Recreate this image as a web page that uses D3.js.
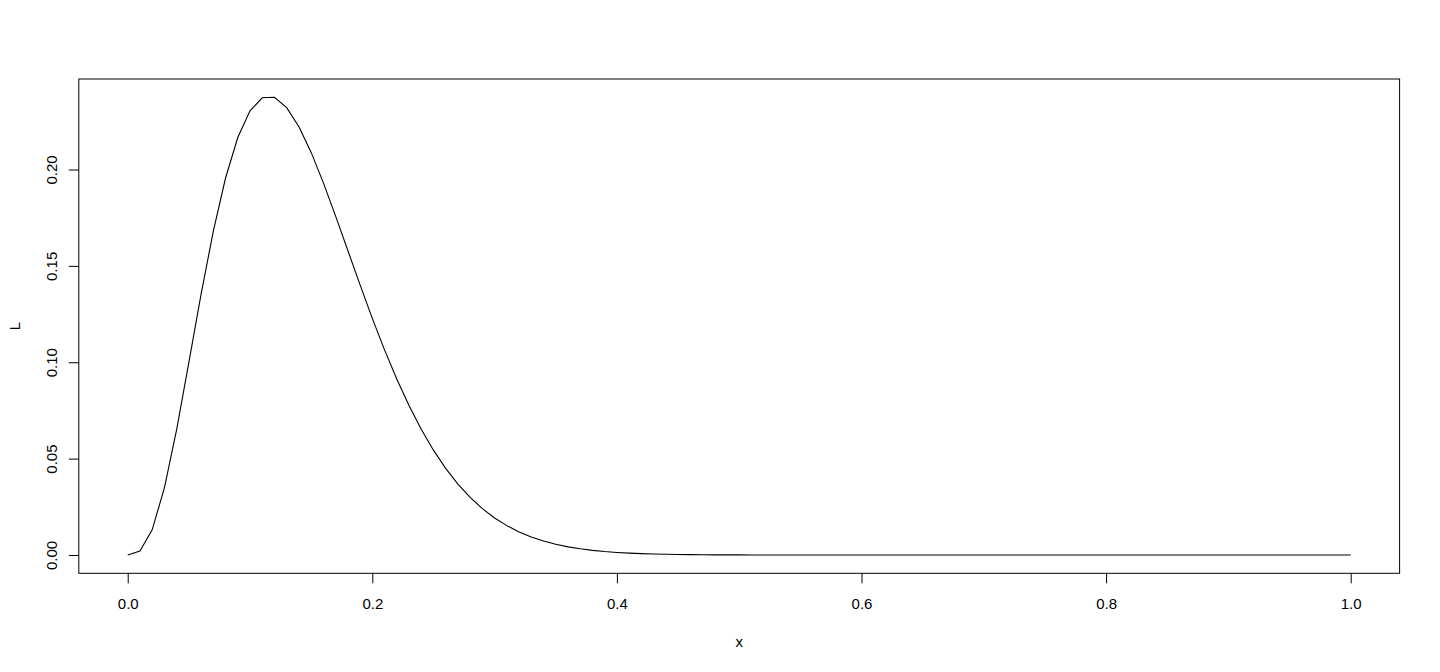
<!DOCTYPE html>
<html>
<head>
<meta charset="utf-8">
<script src="https://cdn.jsdelivr.net/npm/d3@7"></script>
<style>
  body { margin: 0; background: #fff; }
  svg { display: block; font-family: "Liberation Sans", Arial, sans-serif; }
</style>
</head>
<body>
<svg id="chart" width="1440" height="672"></svg>
<script>
// values
const xValues = [
  0.00, 0.01, 0.02, 0.03, 0.04, 0.05, 0.06, 0.07, 0.08, 0.09,
  0.10, 0.11, 0.12, 0.13, 0.14, 0.15, 0.16, 0.17, 0.18, 0.19,
  0.20, 0.21, 0.22, 0.23, 0.24, 0.25, 0.26, 0.27, 0.28, 0.29,
  0.30, 0.31, 0.32, 0.33, 0.34, 0.35, 0.36, 0.37, 0.38, 0.39,
  0.40, 0.41, 0.42, 0.43, 0.44, 0.45, 0.46, 0.47, 0.48, 0.49,
  0.50, 0.51, 0.52, 0.53, 0.54, 0.55, 0.56, 0.57, 0.58, 0.59,
  0.60, 0.61, 0.62, 0.63, 0.64, 0.65, 0.66, 0.67, 0.68, 0.69,
  0.70, 0.71, 0.72, 0.73, 0.74, 0.75, 0.76, 0.77, 0.78, 0.79,
  0.80, 0.81, 0.82, 0.83, 0.84, 0.85, 0.86, 0.87, 0.88, 0.89,
  0.90, 0.91, 0.92, 0.93, 0.94, 0.95, 0.96, 0.97, 0.98, 0.99,
  1.00
];

const lValues = [
  0, 0.00206, 0.01307, 0.03484, 0.06508, 0.09991, 0.13535, 0.16803, 0.19559, 0.21659,
  0.23044, 0.23720, 0.23746, 0.23209, 0.22221, 0.20887, 0.19306, 0.17580, 0.15795, 0.14012,
  0.12279, 0.10643, 0.09130, 0.07754, 0.06524, 0.05439, 0.04494, 0.03681, 0.02989, 0.02406,
  0.01921, 0.01523, 0.01197, 0.00934, 0.00723, 0.00555, 0.00423, 0.00320, 0.00240, 0.00178,
  0.00131, 0.00096, 0.00070, 0.00050, 0.00036, 0.00025, 0.00018, 0.00012, 0.00008, 0.00005,
  0.00004, 0.00003, 0.00002, 0.00001, 0, 0, 0, 0, 0, 0,
  0, 0, 0, 0, 0, 0, 0, 0, 0, 0,
  0, 0, 0, 0, 0, 0, 0, 0, 0, 0,
  0, 0, 0, 0, 0, 0, 0, 0, 0, 0,
  0, 0, 0, 0, 0, 0, 0, 0, 0, 0,
  0
];

const xTicks = [0, 0.2, 0.4, 0.6, 0.8, 1.0];
const yTicks = [0, 0.05, 0.10, 0.15, 0.20];
const xLabel = "x";
const yLabel = "L";

const svg = d3.select("#chart");
const box = {left: 78.8, right: 1399.6, top: 79, bottom: 573.3};

const data = xValues.map((d, i) => ({x: d, L: lValues[i]}));

// R style: pad the data range by 4% on each side
const xExt = d3.extent(xValues), xPad = (xExt[1] - xExt[0]) * 0.04;
const yExt = d3.extent(lValues), yPad = (yExt[1] - yExt[0]) * 0.04;

const x = d3.scaleLinear()
  .domain([xExt[0] - xPad, xExt[1] + xPad])
  .range([box.left, box.right]);

const y = d3.scaleLinear()
  .domain([yExt[0] - yPad, yExt[1] + yPad])
  .range([box.bottom, box.top]);

// x axis
const xAxis = svg.append("g")
  .attr("transform", "translate(0," + box.bottom + ")")
  .call(d3.axisBottom(x)
    .tickValues(xTicks)
    .tickSize(10)
    .tickPadding(0)
    .tickFormat(d3.format(".1f")));
xAxis.select(".domain").remove();
xAxis.selectAll("line").attr("stroke", "#000");
xAxis.selectAll("text")
  .attr("y", 35.7)
  .attr("dy", null)
  .attr("fill", "#000")
  .style("font-size", "15px");

// y axis, labels turned like R does
const yAxis = svg.append("g")
  .attr("transform", "translate(" + box.left + ",0)")
  .call(d3.axisLeft(y)
    .tickValues(yTicks)
    .tickSize(10)
    .tickFormat(d3.format(".2f")));
yAxis.select(".domain").remove();
yAxis.selectAll("line").attr("stroke", "#000");
yAxis.selectAll("text")
  .attr("x", null)
  .attr("dy", null)
  .attr("transform", "translate(-22.2,0) rotate(-90)")
  .attr("text-anchor", "middle")
  .attr("fill", "#000")
  .style("font-size", "15px");

// frame
svg.append("rect")
  .attr("x", box.left)
  .attr("y", box.top)
  .attr("width", box.right - box.left)
  .attr("height", box.bottom - box.top)
  .attr("fill", "none")
  .attr("stroke", "#000")
  .attr("stroke-width", 1);

// axis titles
svg.append("text")
  .attr("x", (box.left + box.right) / 2)
  .attr("y", 647)
  .attr("text-anchor", "middle")
  .style("font-size", "15px")
  .text(xLabel);

svg.append("text")
  .attr("transform", "translate(20," + ((box.top + box.bottom) / 2) + ") rotate(-90)")
  .attr("text-anchor", "middle")
  .style("font-size", "15px")
  .text(yLabel);

// the curve
const line = d3.line()
  .x(d => x(d.x))
  .y(d => y(d.L));

svg.append("path")
  .datum(data)
  .attr("fill", "none")
  .attr("stroke", "#000")
  .attr("stroke-width", 1.1)
  .attr("d", line);
</script>
</body>
</html>
